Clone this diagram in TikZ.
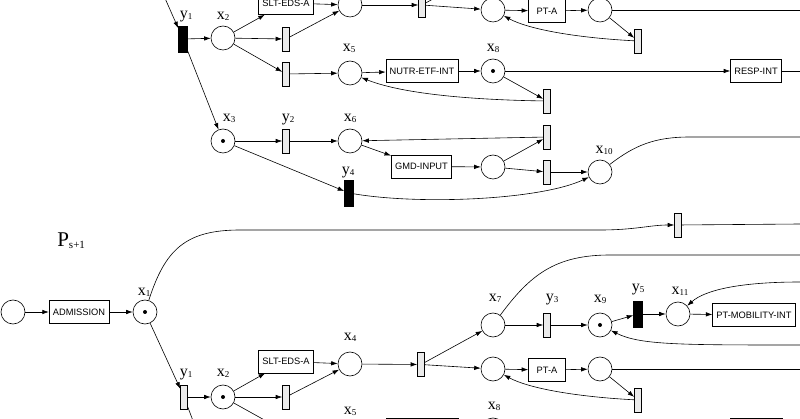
\documentclass[tikz,border=0pt]{standalone}
\usepackage{fontspec}
\setmainfont{Liberation Serif}
\setsansfont{Liberation Sans}
\usetikzlibrary{arrows.meta}
\newcommand{\pn}[2]{{\fontsize{16}{16}\selectfont #1}{\fontsize{9}{9}\selectfont\raisebox{-1pt}{#2}}}

\begin{document}
\begin{tikzpicture}[x=1pt,y=-1pt,>={Latex[length=6.5pt,width=4.5pt]},line width=0.6pt,
  place/.style={circle,draw,minimum size=24pt,inner sep=0pt},
  tok/.style={place,path picture={\fill (path picture bounding box.center) circle (2pt);}},
  trans/.style={rectangle,draw,fill=black!8,minimum width=7pt,minimum height=24pt,inner sep=0pt},
  btrans/.style={rectangle,draw,fill=black,minimum width=9pt,minimum height=26pt,inner sep=0pt},
  act/.style={rectangle,draw,minimum height=23pt,inner xsep=3.8pt,inner ysep=0pt,font=\sffamily\fontsize{9.3}{10}\selectfont},
  lab/.style={anchor=base,inner sep=0pt}]
\useasboundingbox (0,0) rectangle (800,419);
\clip (0,0) rectangle (800,419);
\coordinate (x1a) at (145,-47);
\node[btrans] (y1a) at (183,39) {};
\node[place] (x2a) at (223,38) {};
\node[act] (slta) at (286,3) {SLT-EDS-A};
\node[place] (x4a) at (350,5) {};
\node[trans] (t1a) at (286,39) {};
\node[trans] (t2a) at (286,74) {};
\node[trans] (t3a) at (422,5) {};
\coordinate (x7a) at (493,-34);
\node[place] (c1a) at (493,10) {};
\node[act,minimum width=37pt] (pta) at (547,11) {PT-A};
\node[place] (c2a) at (600,10) {};
\node[trans] (t4a) at (638,41) {};
\node[place] (x5a) at (350,73) {};
\node[act] (nutra) at (422,71) {NUTR-ETF-INT};
\node[tok] (x8a) at (493,71) {};
\node[act] (respa) at (756,71) {RESP-INT};
\node[trans] (t8a) at (547,101) {};
\node[tok] (x3a) at (223,141) {};
\node[trans] (y2a) at (286,141) {};
\node[place] (x6a) at (350,141) {};
\node[act] (gmda) at (421.5,166.5) {GMD-INPUT};
\node[place] (c3a) at (493,167) {};
\node[trans] (t5a) at (547,137) {};
\node[trans] (t6a) at (547,172) {};
\node[place] (x10a) at (600,172) {};
\node[btrans] (y4a) at (349,193) {};
\coordinate (ea1) at (800,10);
\coordinate (ea2) at (800,71);
\coordinate (ea3) at (800,137);
\node[lab] (ly1a) at (186,19) {\pn{y}{1}};
\node[lab] (lx2a) at (223,20) {\pn{x}{2}};
\node[lab] (lx5a) at (349,52) {\pn{x}{5}};
\node[lab] (lx8a) at (493,52) {\pn{x}{8}};
\node[lab] (lx3a) at (229,122) {\pn{x}{3}};
\node[lab] (ly2a) at (288,122) {\pn{y}{2}};
\node[lab] (lx6a) at (350,122) {\pn{x}{6}};
\node[lab] (lx10a) at (604,154) {\pn{x}{10}};
\node[lab] (ly4a) at (348,175) {\pn{y}{4}};
\draw[->] (x1a) -- (y1a);
\draw[->] (y1a) -- (x2a);
\draw[->] (x2a) -- (slta);
\draw[->] (x2a) -- (t1a);
\draw[->] (x2a) -- (t2a);
\draw[->] (slta) -- (x4a);
\draw[->] (t1a) -- (x4a);
\draw[->] (x4a) -- (t3a);
\draw[->] (t3a) -- (x7a);
\draw[->] (t3a) -- (c1a);
\draw[->] (c1a) -- (pta);
\draw[->] (pta) -- (c2a);
\draw (c2a) -- (ea1);
\draw[->] (c2a) -- (t4a);
\draw[->] (t4a) .. controls (580,38) and (530,30) .. (c1a);
\draw[->] (t2a) -- (x5a);
\draw[->] (x5a) -- (nutra);
\draw[->] (nutra) -- (x8a);
\draw[->] (x8a) -- (respa);
\draw (respa) -- (ea2);
\draw[->] (x8a) -- (t8a);
\draw[->] (t8a) .. controls (480,100) and (405,95) .. (x5a);
\draw[->] (y1a) -- (x3a);
\draw[->] (x3a) -- (y2a);
\draw[->] (y2a) -- (x6a);
\draw[->] (x6a) -- (gmda);
\draw[->] (gmda) -- (c3a);
\draw[->] (c3a) -- (t5a);
\draw[->] (c3a) -- (t6a);
\draw[->] (t5a) -- (x6a);
\draw[->] (t6a) -- (x10a);
\draw (x10a) .. controls (635,145) and (655,137) .. (690,137) -- (ea3);
\draw[->] (x3a) -- (y4a);
\draw[->] (y4a) .. controls (420,205) and (540,200) .. (x10a);

\node[anchor=base west,inner sep=0pt] (ps) at (57,247) {{\fontsize{21}{21}\selectfont P}{\fontsize{11}{11}\selectfont\raisebox{-1.5pt}{s+1}}};
\node[place] (s0) at (13,312) {};
\node[act] (adm) at (79,312) {ADMISSION};
\node[tok] (x1b) at (145,312) {};
\node[trans] (ta) at (678,225) {};
\node[trans] (y1b) at (184,397) {};
\node[tok] (x2b) at (223,397) {};
\node[act] (sltb) at (286,361.5) {SLT-EDS-A};
\node[place] (x4b) at (350,364) {};
\node[trans] (t1b) at (286,397) {};
\coordinate (t2b) at (286,432);
\coordinate (x3b) at (223,500);
\node[trans] (t3b) at (421,364.5) {};
\node[place] (x7b) at (493,325) {};
\node[trans] (y3b) at (547,325) {};
\node[tok] (x9b) at (600,325) {};
\node[btrans] (y5b) at (638,314) {};
\node[place] (x11b) at (678,314) {};
\node[act] (ptmob) at (754,315) {PT-MOBILITY-INT};
\node[place] (c1b) at (493,369) {};
\node[act,minimum width=37pt] (ptab) at (547,370) {PT-A};
\node[place] (c2b) at (600,369) {};
\node[trans] (t4b) at (638,400) {};
\node[place] (x5b) at (350,432) {};
\node[act,minimum width=72pt] (nutrb) at (422,430) {};
\node[tok] (x8b) at (493,430) {};
\node[act,minimum width=52pt] (respb) at (756,430) {};
\coordinate (eb1) at (800,224);
\coordinate (eb2) at (800,255);
\coordinate (eb3) at (800,282);
\coordinate (eb4) at (800,369);
\coordinate (eb5) at (800,345);
\node[lab] (lx1b) at (144,296) {\pn{x}{1}};
\node[lab] (ly1b) at (186,376) {\pn{y}{1}};
\node[lab] (lx2b) at (223,376) {\pn{x}{2}};
\node[lab] (lx4b) at (350,341) {\pn{x}{4}};
\node[lab] (lx5b) at (350,414) {\pn{x}{5}};
\node[lab] (lx8b) at (494,409) {\pn{x}{8}};
\node[lab] (lx7b) at (495,302) {\pn{x}{7}};
\node[lab] (ly3b) at (552,302) {\pn{y}{3}};
\node[lab] (lx9b) at (600,303) {\pn{x}{9}};
\node[lab] (ly5b) at (638,292) {\pn{y}{5}};
\node[lab] (lx11b) at (680,295) {\pn{x}{11}};
\draw[->] (s0) -- (adm);
\draw[->] (adm) -- (x1b);
\draw[->] (x1b) .. controls (165,250) and (185,230) .. (240,230) -- (600,230) .. controls (635,230) and (650,225) .. (ta);
\draw (ta) -- (eb1);
\draw[->] (x1b) -- (y1b);
\draw[->] (y1b) -- (x2b);
\draw[->] (y1b) -- (x3b);
\draw[->] (x2b) -- (sltb);
\draw[->] (x2b) -- (t1b);
\draw[->] (x2b) -- (t2b);
\draw[->] (sltb) -- (x4b);
\draw[->] (t1b) -- (x4b);
\draw[->] (x4b) -- (t3b);
\draw[->] (t3b) -- (x7b);
\draw[->] (t3b) -- (c1b);
\draw[->] (c1b) -- (ptab);
\draw[->] (ptab) -- (c2b);
\draw (c2b) -- (eb4);
\draw[->] (c2b) -- (t4b);
\draw[->] (t4b) .. controls (580,397) and (530,389) .. (c1b);
\draw (x7b) .. controls (530,275) and (555,255) .. (610,255) -- (eb2);
\draw[->] (x7b) -- (y3b);
\draw[->] (y3b) -- (x9b);
\draw[->] (x9b) -- (y5b);
\draw[->] (y5b) -- (x11b);
\draw[->] (x11b) -- (ptmob);
\draw[->] (eb3) .. controls (740,282) and (705,290) .. (x11b);
\draw[->] (eb5) .. controls (680,345) and (640,345) .. (x9b);
\end{tikzpicture}
\end{document}
